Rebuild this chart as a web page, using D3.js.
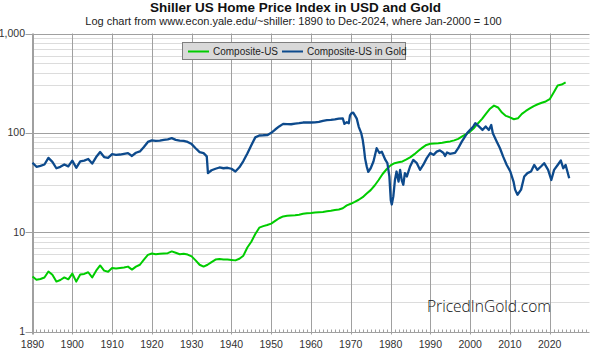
<!DOCTYPE html>
<html><head><meta charset="utf-8">
<script src="https://cdn.jsdelivr.net/npm/d3@7"></script>
<style>
html,body{margin:0;padding:0;background:#fff;}
svg{display:block;font-family:"Liberation Sans",Arial,sans-serif;}
</style></head>
<body>
<svg id="chart" width="590" height="349"></svg>
<script>
const titleText = "Shiller US Home Price Index in USD and Gold";
const subtitleText = "Log chart from www.econ.yale.edu/~shiller: 1890 to Dec-2024, where Jan-2000 = 100";
const seriesNames = ["Composite-US", "Composite-US in Gold"];
const yTickValues = [1, 10, 100, 1000];
const xTickYears = [1890,1900,1910,1920,1930,1940,1950,1960,1970,1980,1990,2000,2010,2020];
const watermarkText = "PricedInGold.com";

// Composite-US (USD), [year, index]
const usdPoints = [
[1890,3.58],[1891,3.32],[1892,3.38],[1893,3.5],[1894,4.02],[1895,3.72],[1896,3.18],[1897,3.3],[1898,3.5],[1899,3.35],
[1900,3.83],[1901,3.18],[1902,3.75],[1903,3.8],[1904,3.95],[1905,3.5],[1906,4.1],[1907,4.62],[1908,4.1],[1909,4.0],
[1910,4.35],[1911,4.3],[1912,4.35],[1913,4.4],[1914,4.5],[1915,4.2],[1916,4.5],[1917,4.7],[1918,5.3],[1919,5.9],
[1920,6.1],[1921,6.0],[1922,6.05],[1923,6.1],[1924,6.15],[1925,6.4],[1926,6.2],[1927,6.0],[1928,6.05],[1929,5.95],
[1930,5.7],[1931,5.2],[1932,4.7],[1933,4.5],[1934,4.7],[1935,5.0],[1936,5.3],[1937,5.37],[1938,5.3],[1939,5.3],
[1940,5.25],[1941,5.2],[1942,5.4],[1943,5.8],[1944,7.0],[1945,8.0],[1946,9.6],[1947,11.1],[1948,11.5],[1949,11.8],
[1950,12.2],[1951,13.0],[1952,13.8],[1953,14.4],[1954,14.6],[1955,14.7],[1956,14.8],[1957,15.0],[1958,15.3],[1959,15.5],
[1960,15.6],[1961,15.8],[1962,15.9],[1963,16.0],[1964,16.2],[1965,16.4],[1966,16.7],[1967,16.9],[1968,17.4],[1969,18.6],
[1970,19.3],[1971,20.2],[1972,21.2],[1973,22.5],[1974,24.5],[1975,26.5],[1976,29.5],[1977,33.5],[1978,38.5],[1979,43],
[1980,47],[1981,49.5],[1982,50.5],[1983,51.5],[1984,54],[1985,57],[1986,61],[1987,66],[1988,71],[1989,75.5],
[1990,77.5],[1991,78],[1992,78.5],[1993,79.5],[1994,81],[1995,82],[1996,84],[1997,87],[1998,92],[1999,97],
[2000,103],[2001,112],[2002,125],[2003,138],[2004,156],[2005,175],[2006,188],[2007,180],[2008,160],[2009,148],
[2010,143],[2011,137],[2012,140],[2013,155],[2014,166],[2015,176],[2016,186],[2017,194],[2018,201],[2019,207],
[2020,218],[2021,255],[2022,300],[2023,306],[2024,322]
];

// Composite-US priced in gold, [year, index]
const goldPoints = [
[1890,50],[1891,45.5],[1892,46.5],[1893,48],[1894,56],[1895,51],[1896,44],[1897,45.5],[1898,48],[1899,46],
[1900,52.5],[1901,44.5],[1902,51.5],[1903,52.5],[1904,54.5],[1905,49],[1906,57],[1907,64],[1908,57],[1909,56],
[1910,61],[1911,60],[1912,60.5],[1913,61.5],[1914,62.5],[1915,58.5],[1916,63],[1917,65],[1918,72],[1919,81],
[1920,84],[1921,83],[1922,83.5],[1923,85],[1924,86],[1925,88.5],[1926,85],[1927,83.5],[1928,83],[1929,81],
[1930,77],[1931,70],[1932,64],[1933,62.5],[1933.8,58],[1934.1,39.3],[1935,42],[1936,43.5],[1937,44.8],[1938,44],
[1939,44.5],[1940,43.5],[1941,40.8],[1942,45],[1943,52],[1944,62],[1945,75],[1946,90],[1947,94],[1948,94.5],
[1949,94.7],[1950,100],[1951,108],[1952,116],[1953,123],[1954,122.5],[1955,122],[1956,124],[1957,125],[1958,127],
[1959,127],[1960,127],[1961,127.5],[1962,129],[1963,132],[1964,134],[1965,135],[1966,136.5],[1967,139],[1968,139.5],
[1968.4,123],[1969,128],[1969.5,125],[1969.8,150],[1970.2,158],[1970.6,160],[1971.1,148],[1971.5,139],[1972,115],[1972.6,100],
[1973,85],[1973.3,70],[1973.6,55],[1974,46],[1974.4,40.5],[1975,44],[1975.7,51.5],[1976.5,70],[1977.2,62.7],[1977.8,64.5],
[1978.7,53.3],[1979.2,49.5],[1979.7,36.4],[1980.05,21],[1980.3,19],[1980.7,23],[1981.1,33.5],[1981.5,40.8],[1982,32.3],[1982.4,42.4],
[1982.8,33.5],[1983.2,30],[1983.6,39.3],[1984.1,36.4],[1984.9,45.8],[1985.7,53.3],[1986.6,49.5],[1987.4,42.4],[1988.2,47.5],[1989.1,55.6],
[1990,62.7],[1990.8,60],[1991.6,64.6],[1992.4,66.5],[1993.3,62.7],[1993.7,58.5],[1994.2,63.5],[1994.9,61.5],[1996.2,62.7],[1997,70],
[1997.9,81.5],[1998.7,91.6],[1999.3,100],[2000,107],[2000.8,116],[2001.3,125],[2002.2,116],[2003.1,107],[2003.9,116],[2004.7,107],
[2005.3,120],[2005.7,99],[2006.7,81.5],[2007.5,70],[2008.3,57.6],[2009.2,47.5],[2010.1,40.8],[2010.9,32.3],[2011.3,26.8],[2011.9,23.8],
[2012.8,26.8],[2013.6,36.4],[2014.4,39.3],[2015.3,40.8],[2016.1,47.5],[2016.9,42.4],[2017.8,45.8],[2018.6,49.5],[2019.6,42.4],[2020.4,33.5],
[2021.1,42.4],[2022,47.5],[2022.8,52.6],[2023.4,44],[2024,47.5],[2024.9,34.9]
];

const colors = ["#00cc00", "#0d4a8c"];

(function () {
const svg = d3.select("#chart");
const pLeft = 32.5, pRight = 589.5, pTop = 33.5, pBottom = 331.5;

const x = d3.scaleLinear().domain([1890, 2030]).range([pLeft, pRight]);
const y = d3.scaleLog().domain([1, 1000]).range([pBottom, pTop]);

// minor horizontal grid
const minorY = [];
[1,10,100].forEach(d => { for (let k = 2; k <= 9; k++) minorY.push(d*k); });
svg.append("g").selectAll("line").data(minorY).join("line")
  .attr("x1", pLeft).attr("x2", pRight)
  .attr("y1", d => Math.round(y(d)) + 0.5).attr("y2", d => Math.round(y(d)) + 0.5)
  .attr("stroke", "#dcdcdc").attr("stroke-width", 1);

// major vertical grid
svg.append("g").selectAll("line").data(xTickYears).join("line")
  .attr("x1", d => Math.round(x(d)) + 0.5).attr("x2", d => Math.round(x(d)) + 0.5)
  .attr("y1", pTop).attr("y2", pBottom + 3)
  .attr("stroke", "#a0a0a0").attr("stroke-width", 1);

// major horizontal grid
svg.append("g").selectAll("line").data(yTickValues).join("line")
  .attr("x1", pLeft - 7).attr("x2", pRight)
  .attr("y1", d => Math.round(y(d)) + 0.5).attr("y2", d => Math.round(y(d)) + 0.5)
  .attr("stroke", "#a0a0a0").attr("stroke-width", 1);

// y axis line
svg.append("line").attr("x1", pLeft).attr("x2", pLeft).attr("y1", pTop).attr("y2", pBottom + 3)
  .attr("stroke", "#a0a0a0");

// yearly minor ticks at bottom
const yearTicks = x.ticks(140).filter(d => Number.isInteger(d));
svg.append("g").selectAll("line").data(yearTicks).join("line")
  .attr("x1", d => Math.round(x(d)) + 0.5).attr("x2", d => Math.round(x(d)) + 0.5)
  .attr("y1", Math.round(pBottom) + 0.5).attr("y2", Math.round(pBottom) - 2.5)
  .attr("stroke", "#a0a0a0");

// y labels
svg.append("g").selectAll("text").data(yTickValues).join("text")
  .attr("x", 25).attr("y", d => y(d) + 3.6)
  .attr("text-anchor", "end").attr("font-size", 10.5).attr("fill", "#333")
  .text(d => d3.format(",")(d));

// x labels
svg.append("g").selectAll("text").data(xTickYears).join("text")
  .attr("x", d => x(d)).attr("y", 347.5)
  .attr("text-anchor", "middle").attr("font-size", 10.5).attr("fill", "#333")
  .text(d => d);

// lines
const line = d3.line().x(d => x(d[0])).y(d => y(d[1]));
svg.append("path").datum(usdPoints).attr("d", line)
  .attr("fill", "none").attr("stroke", colors[0]).attr("stroke-width", 2).attr("stroke-linejoin", "round");
svg.append("path").datum(goldPoints).attr("d", line)
  .attr("fill", "none").attr("stroke", colors[1]).attr("stroke-width", 2.3).attr("stroke-linejoin", "round");

// title
svg.append("text").attr("x", 295.5).attr("y", 12).attr("text-anchor", "middle")
  .attr("font-size", 13.5).attr("font-weight", "bold").attr("fill", "#111").text(titleText);
svg.append("text").attr("x", 293.5).attr("y", 24.5).attr("text-anchor", "middle")
  .attr("font-size", 11).attr("fill", "#222").text(subtitleText);

// legend
const lg = svg.append("g");
lg.append("rect").attr("x", 182.5).attr("y", 42.5).attr("width", 223).attr("height", 17)
  .attr("fill", "#d9d9d9").attr("stroke", "#7f7f7f");
const legendX = [188, 282];
seriesNames.forEach((name, i) => {
  lg.append("line").attr("x1", legendX[i]).attr("x2", legendX[i] + 21)
    .attr("y1", 51.5).attr("y2", 51.5).attr("stroke", colors[i]).attr("stroke-width", 2);
  lg.append("text").attr("x", legendX[i] + 25).attr("y", 55)
    .attr("font-size", 10).attr("fill", "#222").text(name);
});

// watermark
svg.append("text").attr("x", 427).attr("y", 312)
  .attr("font-family", "'Open Sans', 'DejaVu Sans', sans-serif").attr("font-weight", 300)
  .attr("font-size", 16).attr("fill", "#111")
  .attr("textLength", 124).attr("lengthAdjust", "spacingAndGlyphs")
  .text(watermarkText);
})();
</script>
</body></html>
